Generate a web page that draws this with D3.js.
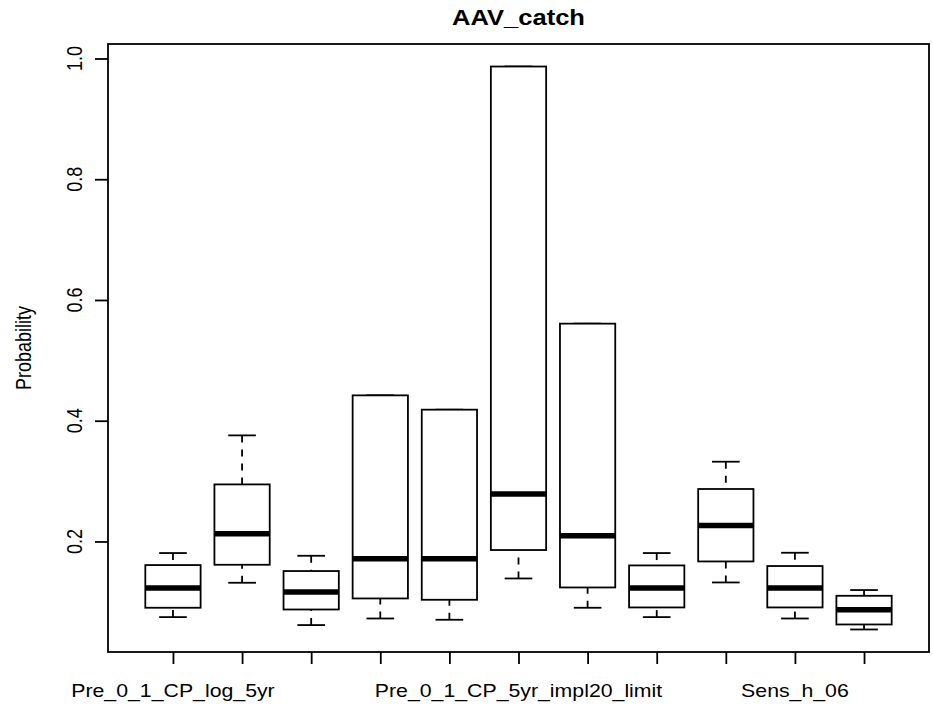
<!DOCTYPE html>
<html><head><meta charset="utf-8">
<script src="https://cdn.jsdelivr.net/npm/d3@7"></script>
<style>body{margin:0;background:#fff}text{font-family:"Liberation Sans",Arial,Helvetica,sans-serif;fill:#000}</style>
</head><body>
<svg id="c" width="933" height="715"></svg>
<script>
const title = "AAV_catch";
const yLabel = "Probability";
const positions = [1,2,3,4,5,6,7,8,9,10,11];
const tickLabels = ["Pre_0_1_CP_log_5yr","","","","","Pre_0_1_CP_5yr_impl20_limit","","","","Sens_h_06",""];
const lowerWhisker = [0.0747,0.1316,0.0615,0.0724,0.0703,0.1387,0.0902,0.0747,0.1321,0.0724,0.0542];
const q1 =           [0.0902,0.1614,0.0873,0.1056,0.1034,0.1858,0.1238,0.0907,0.1669,0.0907,0.0625];
const median =       [0.1228,0.2128,0.1162,0.1714,0.1714,0.2786,0.2095,0.1228,0.2265,0.1228,0.0868];
const q3 =           [0.1609,0.2945,0.1510,0.4420,0.4183,0.9867,0.5608,0.1603,0.2869,0.1593,0.1100];
const upperWhisker = [0.1808,0.3757,0.1763,0.4420,0.4183,0.9867,0.5608,0.1808,0.3321,0.1813,0.1195];
const yTicks = [0.2,0.4,0.6,0.8,1.0];

const SX = 1.183, FS = 18;
const L = 108, R = 929, T = 44, B = 652;
const svg = d3.select("#c");
const n = positions.length;
const x = d3.scaleLinear().domain([0.5 - 0.04*n, n + 0.5 + 0.04*n]).range([L, R]);
const ymin = d3.min(lowerWhisker), ymax = d3.max(upperWhisker), rg = ymax - ymin;
const y = d3.scaleLinear().domain([ymin - 0.04*rg, ymax + 0.04*rg]).range([B, T]);

const boxes = positions.map((p,i)=>({p, lo:lowerWhisker[i], q1:q1[i], med:median[i], q3:q3[i], hi:upperWhisker[i]}));
const bw = (x(1)-x(0))*0.8;
const g = svg.append("g");
const lw = 1.8;
// whiskers (dashed)
g.selectAll(".wl").data(boxes).join("line").attr("x1",d=>x(d.p)).attr("x2",d=>x(d.p))
  .attr("y1",d=>y(d.lo)).attr("y2",d=>y(d.q1)).attr("stroke","#000").attr("stroke-width",lw).attr("stroke-dasharray","7,7");
g.selectAll(".wh").data(boxes).join("line").attr("x1",d=>x(d.p)).attr("x2",d=>x(d.p))
  .attr("y1",d=>y(d.hi)).attr("y2",d=>y(d.q3)).attr("stroke","#000").attr("stroke-width",lw).attr("stroke-dasharray","7,7");
// staples
["lo","hi"].forEach(k=>{
  g.selectAll(".st"+k).data(boxes).join("line").attr("x1",d=>x(d.p)-bw/4).attr("x2",d=>x(d.p)+bw/4)
   .attr("y1",d=>y(d[k])).attr("y2",d=>y(d[k])).attr("stroke","#000").attr("stroke-width",lw);
});
// boxes
g.selectAll(".bx").data(boxes).join("rect").attr("x",d=>x(d.p)-bw/2).attr("width",bw)
  .attr("y",d=>y(d.q3)).attr("height",d=>y(d.q1)-y(d.q3)).attr("fill","#fff").attr("stroke","#000").attr("stroke-width",lw);
// medians
g.selectAll(".md").data(boxes).join("line").attr("x1",d=>x(d.p)-bw/2).attr("x2",d=>x(d.p)+bw/2)
  .attr("y1",d=>y(d.med)).attr("y2",d=>y(d.med)).attr("stroke","#000").attr("stroke-width",5.5);

// frame
svg.append("rect").attr("x",L).attr("y",T).attr("width",R-L).attr("height",B-T).attr("fill","none").attr("stroke","#000").attr("stroke-width",lw);

// x axis
const xa = svg.append("g").attr("transform",`translate(0,${B})`)
  .call(d3.axisBottom(x).tickValues(positions).tickSize(12).tickFormat(""));
xa.select(".domain").remove();
xa.selectAll("line").attr("stroke","#000").attr("stroke-width",lw);
svg.selectAll(".xl").data(positions.filter((p,i)=>tickLabels[i])).join("text")
  .attr("transform",p=>`translate(${x(p)},697) scale(${SX},1)`)
  .attr("text-anchor","middle").attr("font-size",FS).text(p=>tickLabels[p-1]);

// y axis
const ya = svg.append("g").attr("transform",`translate(${L},0)`)
  .call(d3.axisLeft(y).tickValues(yTicks).tickSize(13).tickFormat(""));
ya.select(".domain").remove();
ya.selectAll("line").attr("stroke","#000").attr("stroke-width",lw);
svg.selectAll(".yl").data(yTicks).join("text")
  .attr("transform",v=>`translate(82,${y(v)}) scale(${SX},1) rotate(-90)`)
  .attr("text-anchor","middle").attr("font-size",FS).text(v=>d3.format(".1f")(v));

svg.append("text").attr("transform",`translate(31,${(T+B)/2}) scale(${SX},1) rotate(-90)`)
  .attr("text-anchor","middle").attr("font-size",FS).text(yLabel);
svg.append("text").attr("transform",`translate(${(L+R)/2},25) scale(${SX},1)`)
  .attr("text-anchor","middle").attr("font-size",FS*1.2).attr("font-weight","bold").text(title);
</script>
</body></html>
